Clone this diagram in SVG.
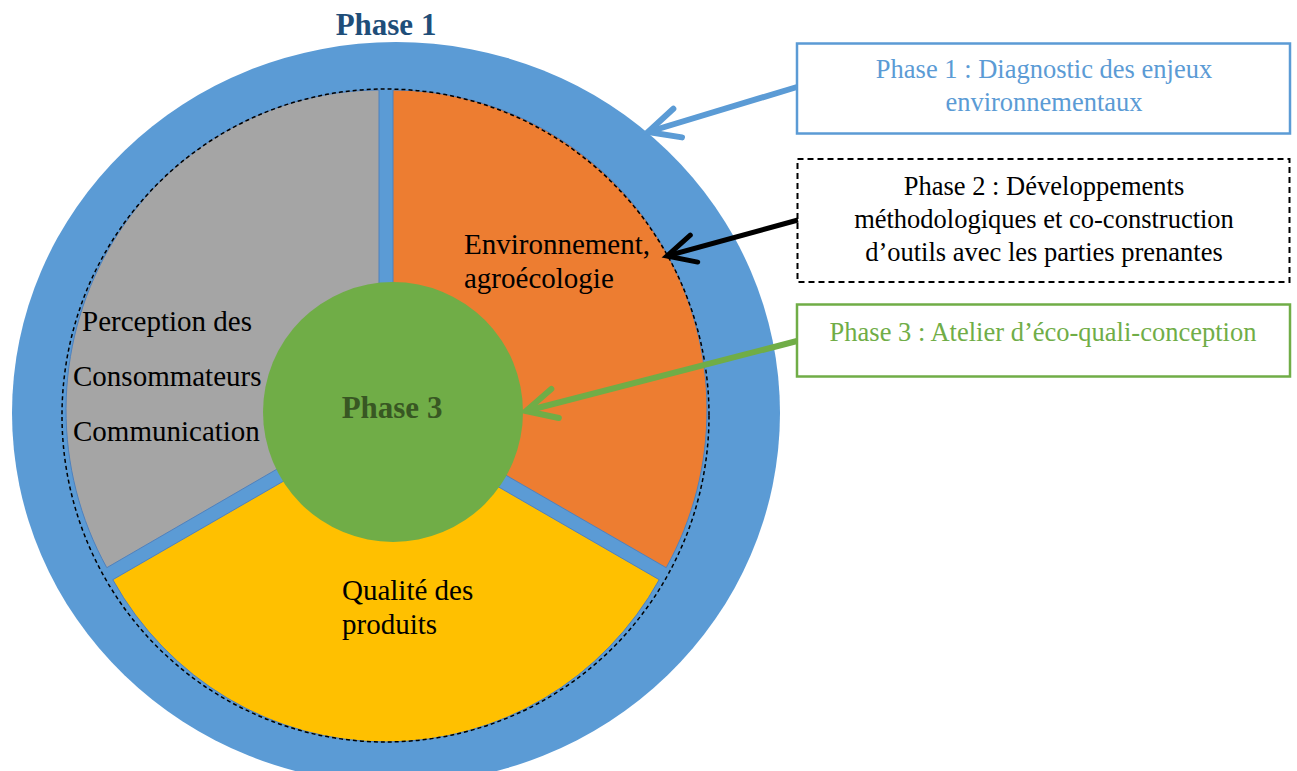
<svg xmlns="http://www.w3.org/2000/svg" width="1297" height="771" viewBox="0 0 1297 771">
<style>
.t{font-family:"Liberation Serif","Times New Roman",serif;font-size:29px;fill:#000}
.bt{font-family:"Liberation Serif","Times New Roman",serif;font-size:26.5px;text-anchor:middle}
.big{font-family:"Liberation Serif","Times New Roman",serif;font-size:31px;font-weight:bold;text-anchor:middle}
.slice{stroke:#4F81BD;stroke-width:1}
.box{fill:#fff;stroke-width:2.5}
</style>
<defs>
<marker id="mb" markerUnits="userSpaceOnUse" markerWidth="60" markerHeight="60" refX="0" refY="0" viewBox="-40 -30 50 60" orient="auto" overflow="visible">
<path d="M-31,-15 L0,0 L-31,15" fill="none" stroke="#5B9BD5" stroke-width="6" stroke-linecap="round" stroke-linejoin="miter"/>
</marker>
<marker id="mk" markerUnits="userSpaceOnUse" markerWidth="60" markerHeight="60" refX="0" refY="0" viewBox="-40 -30 50 60" orient="auto" overflow="visible">
<path d="M-28,-14 L0,0 L-28,14" fill="none" stroke="#000" stroke-width="5" stroke-linecap="round" stroke-linejoin="miter"/>
</marker>
<marker id="mg" markerUnits="userSpaceOnUse" markerWidth="60" markerHeight="60" refX="0" refY="0" viewBox="-40 -30 50 60" orient="auto" overflow="visible">
<path d="M-30,-15 L0,0 L-30,15" fill="none" stroke="#70AD47" stroke-width="6" stroke-linecap="round" stroke-linejoin="miter"/>
</marker>
</defs>

<g id="ring">
<ellipse cx="396" cy="413" rx="384" ry="371" fill="#5B9BD5"/>
</g>

<g id="slice-environnement">
<path class="slice" d="M393,410 L393,90 A314,320 0 0 1 666.2,567.7 Z" fill="#ED7D31"/>
</g>
<g id="slice-perception">
<path class="slice" d="M379,410 L106.8,567.7 A314,320 0 0 1 379,90 Z" fill="#A5A5A5"/>
</g>
<g id="slice-qualite">
<path class="slice" d="M386,422 L659.2,579.7 A314,320 0 0 1 112.8,579.7 Z" fill="#FFC000"/>
</g>

<g id="outline">
<ellipse cx="385.5" cy="415.5" rx="323.5" ry="326.5" fill="none" stroke="#000" stroke-width="1.5" stroke-dasharray="4 3"/>
</g>

<g id="center-phase3">
<circle cx="393" cy="412" r="130" fill="#70AD47"/>
<text class="big" x="392" y="418" fill="#385723">Phase 3</text>
</g>

<g id="label-phase1">
<text class="big" x="386" y="35" fill="#1F4E79">Phase 1</text>
</g>

<g id="labels">
<text class="t" x="464" y="254">Environnement,</text>
<text class="t" x="464" y="288">agroécologie</text>
<text class="t" x="82" y="331">Perception des</text>
<text class="t" x="73" y="386">Consommateurs</text>
<text class="t" x="73" y="441">Communication</text>
<text class="t" x="342" y="600">Qualité des</text>
<text class="t" x="342" y="634">produits</text>
</g>

<g id="box1">
<rect class="box" x="797" y="43.5" width="493" height="90" stroke="#5B9BD5"/>
<text class="bt" x="1044" y="78" fill="#5B9BD5">Phase 1 : Diagnostic des enjeux</text>
<text class="bt" x="1044" y="111" fill="#5B9BD5">environnementaux</text>
</g>

<g id="box2">
<rect x="797.5" y="159" width="492" height="123" fill="#fff" stroke="#000" stroke-width="2" stroke-dasharray="6 4"/>
<text class="bt" x="1044" y="195" fill="#000">Phase 2 : Développements</text>
<text class="bt" x="1044" y="227.5" fill="#000">méthodologiques et co-construction</text>
<text class="bt" x="1044" y="260.5" fill="#000">d’outils avec les parties prenantes</text>
</g>

<g id="box3">
<rect class="box" x="797" y="304.5" width="493" height="72" stroke="#70AD47"/>
<text class="bt" x="1043" y="340.5" fill="#70AD47">Phase 3 : Atelier d’éco-quali-conception</text>
</g>

<g id="connectors" fill="none">
<line x1="797" y1="87" x2="648" y2="132" stroke="#5B9BD5" stroke-width="6" marker-end="url(#mb)"/>
<line x1="798" y1="220" x2="667" y2="256" stroke="#000" stroke-width="5" marker-end="url(#mk)"/>
<line x1="797" y1="341" x2="526" y2="411" stroke="#70AD47" stroke-width="6" marker-end="url(#mg)"/>
</g>
</svg>
